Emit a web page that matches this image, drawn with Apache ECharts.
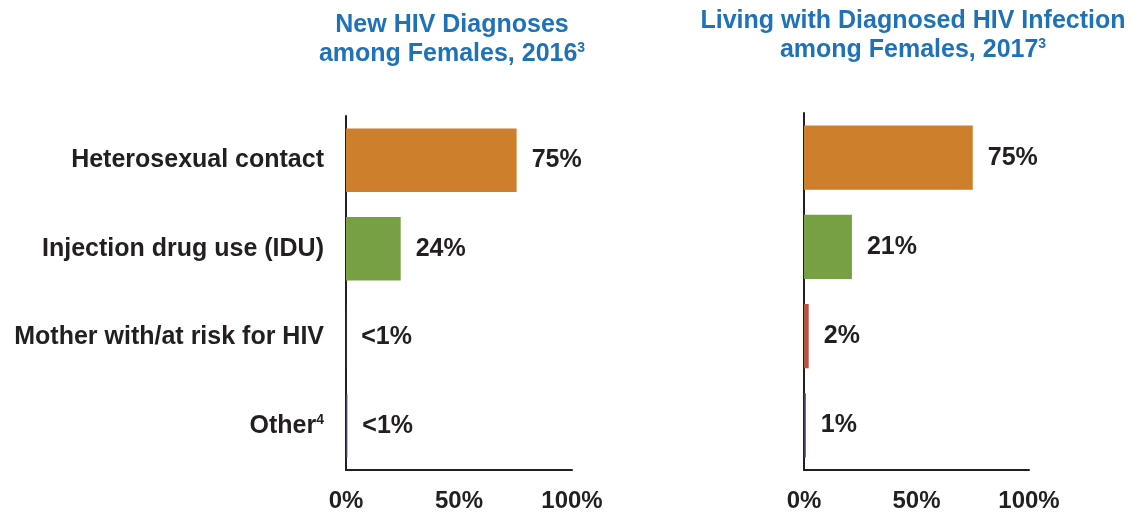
<!DOCTYPE html>
<html>
<head>
<meta charset="utf-8">
<script src="https://cdn.jsdelivr.net/npm/echarts@6/dist/echarts.min.js"></script>
<style>
  html, body { margin: 0; padding: 0; background: #fff; }
  #chart { width: 1138px; height: 513px; }
</style>
</head>
<body>
<div id="chart"></div>
<script>
// categories (top to bottom)
const categories = [
  "Heterosexual contact",
  "Injection drug use (IDU)",
  "Mother with/at risk for HIV",
  "Other{sup|4}"
];
const barColors = ["#CD7F2B", "#77A045", "#B5533F", "#4E3F6E"];

// new diagnoses 2016
const newDiagValues = [75.5, 24.2, 0.1, 0.6];
const newDiagLabels = ["75%", "24%", "<1%", "<1%"];

// living with diagnosed HIV 2017
const livingValues = [75, 21.3, 2.1, 0.8];
const livingLabels = ["75%", "21%", "2%", "1%"];

const xTicks = [0, 50, 100];

const chart = echarts.init(document.getElementById("chart"));

function barSeries(idx, values, labels) {
  return {
    type: "bar",
    xAxisIndex: idx,
    yAxisIndex: idx,
    barCategoryGap: "28%",
    data: values.map((v, i) => ({ value: v, itemStyle: { color: barColors[i] } })),
    label: {
      show: true,
      position: "right",
      distance: 15,
      formatter: (p) => labels[p.dataIndex],
      fontFamily: "Liberation Sans",
      fontWeight: "bold",
      fontSize: 25,
      color: "#231F20"
    }
  };
}

function xAxisFor(idx) {
  return {
    gridIndex: idx,
    type: "value",
    min: 0,
    max: 100,
    interval: 50,
    splitLine: { show: false },
    axisTick: { show: false },
    axisLine: { show: true, lineStyle: { color: "#231F20", width: 2 } },
    axisLabel: {
      margin: 19,
      formatter: (v) => (xTicks.includes(v) ? v + "%" : ""),
      fontFamily: "Liberation Sans",
      fontWeight: "bold",
      fontSize: 24,
      color: "#231F20"
    }
  };
}

function yAxisFor(idx, showLabels) {
  return {
    gridIndex: idx,
    type: "category",
    inverse: true,
    data: categories,
    axisTick: { show: false },
    axisLine: { show: true, lineStyle: { color: "#231F20", width: 2 } },
    axisLabel: {
      show: showLabels,
      margin: 22,
      fontFamily: "Liberation Sans",
      fontWeight: "bold",
      fontSize: 25,
      color: "#231F20",
      rich: {
        sup: {
          fontFamily: "Liberation Sans",
          fontWeight: "bold",
          fontSize: 14,
          color: "#231F20",
          padding: [0, 0, 12, 0]
        }
      }
    }
  };
}

const titleStyle = {
  fontFamily: "Liberation Sans",
  fontWeight: "bold",
  fontSize: 25,
  lineHeight: 29,
  color: "#1F72B8",
  rich: {
    sup: {
      fontFamily: "Liberation Sans",
      fontWeight: "bold",
      fontSize: 14,
      color: "#1F72B8",
      padding: [0, 0, 12, 0]
    }
  }
};

chart.setOption({
  animation: false,
  title: [
    {
      text: "New HIV Diagnoses\namong Females, 2016{sup|3}",
      left: 447,
      top: 6,
      textAlign: "center",
      textStyle: titleStyle
    },
    {
      text: "Living with Diagnosed HIV Infection\namong Females, 2017{sup|3}",
      left: 908,
      top: 2,
      textAlign: "center",
      textStyle: titleStyle
    }
  ],
  grid: [
    { left: 346, top: 116, width: 226, height: 354 },
    { left: 804, top: 113, width: 225, height: 357 }
  ],
  xAxis: [xAxisFor(0), xAxisFor(1)],
  yAxis: [yAxisFor(0, true), yAxisFor(1, false)],
  series: [
    barSeries(0, newDiagValues, newDiagLabels),
    barSeries(1, livingValues, livingLabels)
  ]
});
</script>
</body>
</html>
